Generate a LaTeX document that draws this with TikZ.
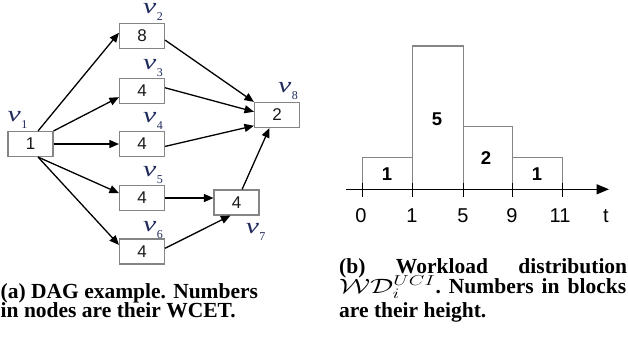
\documentclass[tikz,border=0pt]{standalone}
\usepackage{fontspec}
\setmainfont{Liberation Serif}
\setsansfont{Liberation Sans}
\usetikzlibrary{arrows.meta,calc}
\definecolor{boxgray}{HTML}{858585}
\definecolor{lblblue}{HTML}{1F2A5C}
\newcommand\vlab[1]{\scalebox{1.35}[1]{\itshape v}\kern0.5pt\raisebox{-7pt}{\fontsize{12}{12}\selectfont #1}}
\begin{document}
\begin{tikzpicture}[x=1pt,y=-1pt,
  task/.style={draw=boxgray, line width=1.1pt, fill=white, minimum width=45pt, minimum height=25pt, inner sep=0pt, font=\sffamily\fontsize{17}{17}\selectfont, text=black!90},
  vlbl/.style={anchor=base west, inner sep=0pt, text=lblblue, font=\fontsize{22}{22}\selectfont},
  dagedge/.style={line width=1.3pt, -{Triangle[length=9.5pt,width=8pt]}},
  blk/.style={draw=boxgray, line width=1.1pt},
  blklbl/.style={inner sep=0pt, font=\sffamily\bfseries\fontsize{18.5}{18.5}\selectfont},
  ticklbl/.style={anchor=base, inner sep=0pt, font=\sffamily\fontsize{20}{20}\selectfont},
  tickline/.style={line width=1.4pt},
  captxt/.style={anchor=base west, inner sep=0pt, font=\bfseries\fontsize{21.5}{21.5}\selectfont}
]
\useasboundingbox (0,0) rectangle (628,337);

% ---- (a) DAG ----
\node[task] (v1) at (30.5,144) {1};
\node[task] (v2) at (142,36) {8};
\node[task] (v3) at (142,91) {4};
\node[task] (v4) at (142,144) {4};
\node[task] (v5) at (142,198) {4};
\node[task] (v6) at (142,251.5) {4};
\node[task] (v7) at (236.5,202.5) {4};
\node[task] (v8) at (277,115) {2};

\node[vlbl] (l1) at ($(v1.north west)+(0,-9.5)$) {\vlab{1}};
\node[vlbl] (l2) at ($(v2.north)+(1,-9.5)$) {\vlab{2}};
\node[vlbl] (l3) at ($(v3.north)+(1,-8.5)$) {\vlab{3}};
\node[vlbl] (l4) at ($(v4.north)+(1,-8.5)$) {\vlab{4}};
\node[vlbl] (l5) at ($(v5.north)+(1,-8.5)$) {\vlab{5}};
\node[vlbl] (l6) at ($(v6.north)+(1,-7)$) {\vlab{6}};
\node[vlbl] (l7) at ($(v7.south east)+(-14,18)$) {\vlab{7}};
\node[vlbl] (l8) at ($(v8.north)+(1,-9.5)$) {\vlab{8}};

\draw[dagedge] (v1.60) -- (v2.172);
\draw[dagedge] (v1.north east) -- (v3.195);
\draw[dagedge] (v1.east) -- (v4.west);
\draw[dagedge] (v1.-60) -- (v5.168);
\draw[dagedge] (v1.-60) -- (v6.164);
\draw[dagedge] (v2.-10) -- (v8.north west);
\draw[dagedge] (v3.8) -- (v8.172);
\draw[dagedge] (v4.-6) -- (v8.205);
\draw[dagedge] (v5.east) -- (v5.east -| v7.west);
\draw[dagedge] (v6.8) -- (v7.-115);
\draw[dagedge] (v7.67) -- (v8.-120);

% ---- (b) workload distribution ----
\draw[blk] (362.3,189.3) rectangle (412.7,157.7);
\draw[blk] (412.7,189.3) rectangle (463.3,46);
\draw[blk] (463.3,189.3) rectangle (512.3,126.7);
\draw[blk] (512.3,189.3) rectangle (562.3,157.7);
\node[blklbl] (b1) at (387,174) {1};
\node[blklbl] (b2) at (437,119) {5};
\node[blklbl] (b3) at (486,158) {2};
\node[blklbl] (b4) at (537,174) {1};

\coordinate (axs) at (346,189.3);
\coordinate (axe) at (609,189.3);
\draw[line width=1.4pt, -{Triangle[length=12.5pt,width=10pt]}] (axs) -- (axe);
\foreach \x in {362.3, 412.7, 463.3, 512.3, 562.3}{
  \draw[tickline] (\x,182.7) -- (\x,196.7);
}
\node[ticklbl] (t0) at (361,222.7) {0};
\node[ticklbl] (t1) at (412,222.7) {1};
\node[ticklbl] (t5) at (463,222.7) {5};
\node[ticklbl] (t9) at (512,222.7) {9};
\node[ticklbl] (t11) at (560,222.7) {11};
\node[ticklbl] (tt) at (606,222.7) {t};

% ---- captions ----
\node[captxt] (ca1) at (0.5,298.3) {(a) DAG example. Numbers};
\node[captxt] (ca2) at (0.5,317.7) {in nodes are their WCET.};
\node[captxt] (cb1) at (339,273.3) {\hbox to 288pt{(b)\hfill Workload\hfill distribution}};
\node[captxt] (cb2) at (339,293) {\hbox to 287pt{\scalebox{1.4}[1]{$\mathcal{W}\mathcal{D}_i^{UCI}$}.\hfill Numbers\hfill in\hfill blocks}};
\node[captxt] (cb3) at (339,317.3) {are their height.};
\end{tikzpicture}
\end{document}
